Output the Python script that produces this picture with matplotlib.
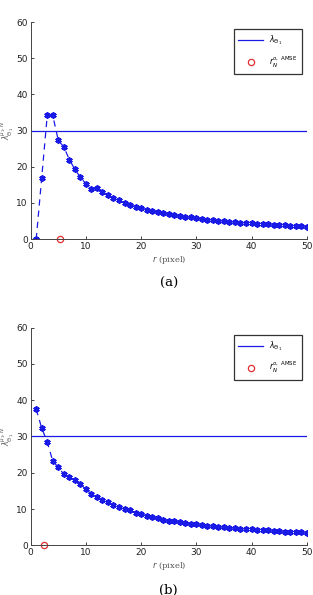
import matplotlib
matplotlib.use("Agg")
import matplotlib.pyplot as plt
import numpy as np

# radius r (pixel)
r = np.arange(1, 51)

# estimated lambda for case (a)
lam_a = [0.0, 17.0, 34.2, 34.2, 27.3, 25.5, 22.0, 19.3, 17.1, 15.3,
         14.0, 14.2, 13.1, 12.2, 11.4, 10.7, 10.1, 9.5, 9.0, 8.6,
         8.2, 7.8, 7.5, 7.2, 6.9, 6.7, 6.4, 6.2, 6.0, 5.8,
         5.6, 5.4, 5.3, 5.1, 4.95, 4.8, 4.7, 4.6, 4.5, 4.4,
         4.3, 4.2, 4.1, 4.0, 3.9, 3.8, 3.75, 3.65, 3.6, 3.5]

# estimated lambda for case (b)
lam_b = [37.5, 32.3, 28.5, 23.2, 21.5, 19.6, 18.7, 17.9, 16.9, 15.4,
         14.2, 13.3, 12.6, 11.9, 11.1, 10.5, 10.0, 9.6, 9.0, 8.6,
         8.2, 7.8, 7.5, 7.1, 6.8, 6.6, 6.4, 6.2, 6.0, 5.8,
         5.6, 5.4, 5.3, 5.1, 4.95, 4.8, 4.7, 4.6, 4.5, 4.4,
         4.3, 4.2, 4.1, 4.0, 3.9, 3.8, 3.75, 3.65, 3.6, 3.4]

lam_true = 30
r_opt = [5.4, 2.4]
panels = ["(a)", "(b)"]

fig = plt.figure(figsize=(3.13, 5.95), dpi=100)
ax_a = fig.add_axes([0.098, 0.598, 0.882, 0.365])
ax_b = fig.add_axes([0.098, 0.0835, 0.882, 0.366])

blue = "#1a1ae6"
for ax, lam, ro, name in zip([ax_a, ax_b], [lam_a, lam_b], r_opt, panels):
    ax.plot(r, lam, color=blue, lw=0.9, ls=(0, (5, 4)), marker=(6, 2, 0),
            ms=4.5, mew=1.3, mec=blue, mfc=blue)
    ax.plot([0, 50], [lam_true, lam_true], "-", color=blue, lw=0.9,
            label=r"$\lambda_{\Theta_1}$")
    ax.plot([ro], [0], "o", mfc="none", mec="#e03030", ms=4.5, mew=0.9,
            clip_on=False, label=r"$r_N^{o,\ \mathrm{AMSE}}$")
    ax.set_xlim(0, 50)
    ax.set_ylim(0, 60)
    ax.set_xticks([0, 10, 20, 30, 40, 50])
    ax.set_yticks([0, 10, 20, 30, 40, 50, 60])
    ax.tick_params(direction="in", length=2.5, width=0.6, labelsize=6.5,
                   colors="#222222", pad=2)
    for s in ["top", "right"]:
        ax.spines[s].set_visible(False)
    for s in ["left", "bottom"]:
        ax.spines[s].set_linewidth(0.7)
        ax.spines[s].set_color("#444444")
    ax.set_xlabel(r"$r$ (pixel)", family="serif", fontsize=6, color="#555555",
                  labelpad=2)
    ax.set_ylabel(r"$\widehat{\lambda}_{\Theta_1}^{\mu_1,N}$", fontsize=5.5,
                  color="#555555", va="center")
    ax.yaxis.set_label_coords(-0.083, 0.5)
    leg = ax.legend(loc="upper right", fontsize=5.5, frameon=True,
                    fancybox=False, edgecolor="black", handlelength=3.2,
                    borderpad=0.6, labelspacing=0.9,
                    bbox_to_anchor=(0.995, 0.985))
    leg.get_frame().set_linewidth(0.9)
    ax.text(0.5, -0.205, name, transform=ax.transAxes, ha="center",
            va="center", family="serif", fontsize=9.5)

fig.savefig("out.png", dpi=100)
